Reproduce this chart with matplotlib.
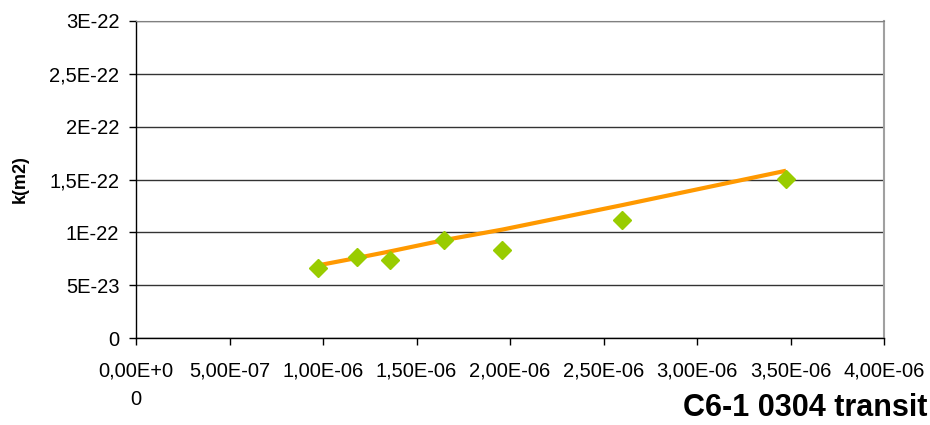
import numpy as np
import matplotlib.pyplot as plt
from matplotlib.ticker import FixedLocator

plt.rcParams['font.family'] = ['Liberation Sans', 'DejaVu Sans']

# measured points: transit parameter vs permeability k (m2)
transit = [0.975e-6, 1.180e-6, 1.360e-6, 1.649e-6, 1.959e-6, 2.601e-6, 3.476e-6]
k_m2 = [0.659e-22, 0.769e-22, 0.735e-22, 0.924e-22, 0.830e-22, 1.114e-22, 1.507e-22]
# fitted curve evaluated at the same transit values
k_fit = [0.688e-22, 0.757e-22, 0.820e-22, 0.927e-22, 1.026e-22, 1.258e-22, 1.583e-22]

x_ticks = [0, 5e-7, 1e-6, 1.5e-6, 2e-6, 2.5e-6, 3e-6, 3.5e-6, 4e-6]
x_labels = ['0,00E+0\n0', '5,00E-07', '1,00E-06', '1,50E-06', '2,00E-06',
            '2,50E-06', '3,00E-06', '3,50E-06', '4,00E-06']
y_ticks = [0, 5e-23, 1e-22, 1.5e-22, 2e-22, 2.5e-22, 3e-22]
y_labels = ['0', '5E-23', '1E-22', '1,5E-22', '2E-22', '2,5E-22', '3E-22']

fig = plt.figure(figsize=(9.3, 4.25), dpi=100)
ax = fig.add_axes([136/930, 87/425, 748/930, 317/425])

ax.plot(transit, k_fit, color='#FF9900', lw=3, zorder=3, solid_capstyle='butt')
ax.plot(transit, k_m2, ls='none', marker='D', ms=9.5, color='#99CC00',
        markeredgecolor='#99CC00', zorder=4)

ax.set_xlim(0, 4e-6)
ax.set_ylim(0, 3e-22)
ax.xaxis.set_major_locator(FixedLocator(x_ticks))
ax.set_xticklabels(x_labels, fontsize=14.5, linespacing=1.6, va='top')
ax.yaxis.set_major_locator(FixedLocator(y_ticks))
ax.set_yticklabels(y_labels, fontsize=14.5)
ax.tick_params(axis='both', direction='out', length=5, width=1, color='black')
ax.tick_params(axis='x', pad=12)
ax.tick_params(axis='y', pad=7)

ax.grid(axis='y', color='#333333', lw=1)
ax.set_axisbelow(True)
for s in ['left', 'bottom']:
    ax.spines[s].set_color('black')
    ax.spines[s].set_linewidth(1)
ax.spines['top'].set_color('#808080')
ax.spines['right'].set_color('#a0a0a0')
ax.spines['right'].set_linewidth(1.5)

ax.set_ylabel('k(m2)', fontsize=13, fontweight='bold')
ax.yaxis.set_label_coords(-0.143, 0.5)
fig.text(927/930, 1 - 408/425, 'C6-1 0304 transit', fontsize=22, fontweight='bold',
         ha='right', va='center')

fig.savefig('out.png', dpi=100)
